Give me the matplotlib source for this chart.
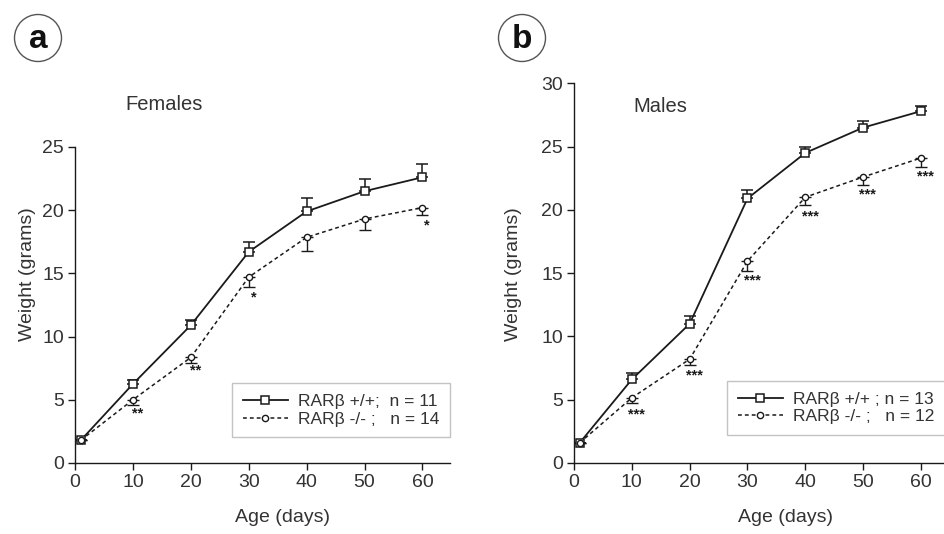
import matplotlib
matplotlib.use('Agg')
import matplotlib.pyplot as plt
from matplotlib.patches import Ellipse
from matplotlib.lines import Line2D

plt.rcParams['font.family'] = ['Liberation Sans', 'DejaVu Sans']

age = [1, 10, 20, 30, 40, 50, 60]

# females
f_wt = [1.8, 6.25, 10.9, 16.7, 19.9, 21.5, 22.6]
f_wt_err = [0, 0.35, 0.4, 0.8, 1.1, 1.0, 1.05]
f_ko = [1.8, 5.0, 8.35, 14.7, 17.85, 19.3, 20.2]
f_ko_err = [0, 0.4, 0.45, 0.8, 1.05, 0.9, 0.6]
f_stars = ['', '**', '**', '*', '', '', '*']
f_star_y = [0, 3.95, 7.3, 13.1, 0, 0, 18.8]

# males
m_wt = [1.6, 6.6, 11.0, 20.9, 24.5, 26.5, 27.8]
m_wt_err = [0, 0.5, 0.6, 0.7, 0.5, 0.5, 0.4]
m_ko = [1.6, 5.15, 8.2, 15.95, 21.0, 22.6, 24.1]
m_ko_err = [0, 0.45, 0.45, 0.75, 0.6, 0.6, 0.7]
m_stars = ['', '***', '***', '***', '***', '***', '***']
m_star_y = [0, 3.85, 6.95, 14.4, 19.5, 21.2, 22.6]

ink = '#1a1a1a'
txt = '#333333'
ko_ls = (0, (2.5, 2))

fig = plt.figure(figsize=(9.45, 5.34), dpi=100)
ax1 = fig.add_axes([0.0794, 0.133, 0.397, 0.5918])
ax2 = fig.add_axes([0.6074, 0.133, 0.3926, 0.711])


def panel(ax, wt, wt_err, ko, ko_err, stars, star_y, ymax, labels, leg_anchor):
    ax.errorbar(age, wt, yerr=[[0] * len(wt_err), wt_err], color=ink, lw=1.3,
                marker='s', ms=6, mfc='white', mec=ink, mew=1.1,
                capsize=4, elinewidth=1.1, capthick=1.1, zorder=3)
    ax.errorbar(age, ko, yerr=[ko_err, [0] * len(ko_err)], color=ink, lw=1.1,
                ls=ko_ls, marker='o', ms=4.5, mfc='white', mec=ink, mew=1.0,
                capsize=4, elinewidth=1.0, capthick=1.0, zorder=3)
    for xi, s, sy in zip(age, stars, star_y):
        if s:
            ax.text(xi + 0.8, sy, s, ha='center', va='center', fontsize=10.5,
                    fontweight='bold', color=ink)
    ax.set_ylim(0, ymax)
    ax.set_yticks(range(0, ymax + 1, 5))
    ax.set_xticks(range(0, 61, 10))
    ax.spines['top'].set_visible(False)
    ax.spines['right'].set_visible(False)
    for sp in ('left', 'bottom'):
        ax.spines[sp].set_color(ink)
        ax.spines[sp].set_linewidth(1.0)
    ax.tick_params(direction='out', length=5, width=1, colors=ink,
                   labelsize=14, labelcolor=txt, pad=3)
    ax.set_xlabel('Age (days)', fontsize=14, color=txt)
    ax.set_ylabel('Weight (grams)', fontsize=14, color=txt)
    handles = [
        Line2D([], [], color=ink, lw=1.3, marker='s', ms=6, mfc='white', mec=ink, mew=1.1),
        Line2D([], [], color=ink, lw=1.1, ls=ko_ls, marker='o', ms=4.5, mfc='white', mec=ink, mew=1.0),
    ]
    leg = ax.legend(handles, labels, loc='lower right', bbox_to_anchor=leg_anchor, fontsize=12.5,
                    frameon=True, fancybox=False, handlelength=2.6, handletextpad=0.6,
                    borderpad=0.6, labelspacing=0.15, borderaxespad=0)
    leg.get_frame().set_edgecolor('#b5b5b5')
    leg.get_frame().set_linewidth(1.0)
    for t in leg.get_texts():
        t.set_color(txt)


panel(ax1, f_wt, f_wt_err, f_ko, f_ko_err, f_stars, f_star_y, 25,
      ['RARβ +/+;  n = 11', 'RARβ -/- ;   n = 14'], (1.0, 0.082))
ax1.set_xlim(0, 64.8)
ax1.yaxis.set_label_coords(-0.104, 0.598)
ax1.xaxis.set_label_coords(0.552, -0.145)

panel(ax2, m_wt, m_wt_err, m_ko, m_ko_err, m_stars, m_star_y, 30,
      ['RARβ +/+ ; n = 13', 'RARβ -/- ;   n = 12'], (1.0, 0.074))
ax2.set_xlim(0, 64.15)
ax2.yaxis.set_label_coords(-0.14, 0.498)
ax2.xaxis.set_label_coords(0.571, -0.12)

fig.text(125 / 945, 1 - 105 / 534, 'Females', fontsize=14.5, color=txt, va='center')
fig.text(633 / 945, 1 - 107 / 534, 'Males', fontsize=14.5, color=txt, va='center')

# panel letters in circles
for cx, cy, letter in [(38, 38, 'a'), (522, 38, 'b')]:
    fig.patches.append(Ellipse((cx / 945, 1 - cy / 534), 47 / 945, 47 / 534,
                               transform=fig.transFigure, fill=False, ec='#555555', lw=1.0))
    fig.text(cx / 945, 1 - (cy + 2) / 534, letter, fontsize=24, fontweight='bold',
             ha='center', va='center', color='#111111')

fig.savefig('out.png', dpi=100)
